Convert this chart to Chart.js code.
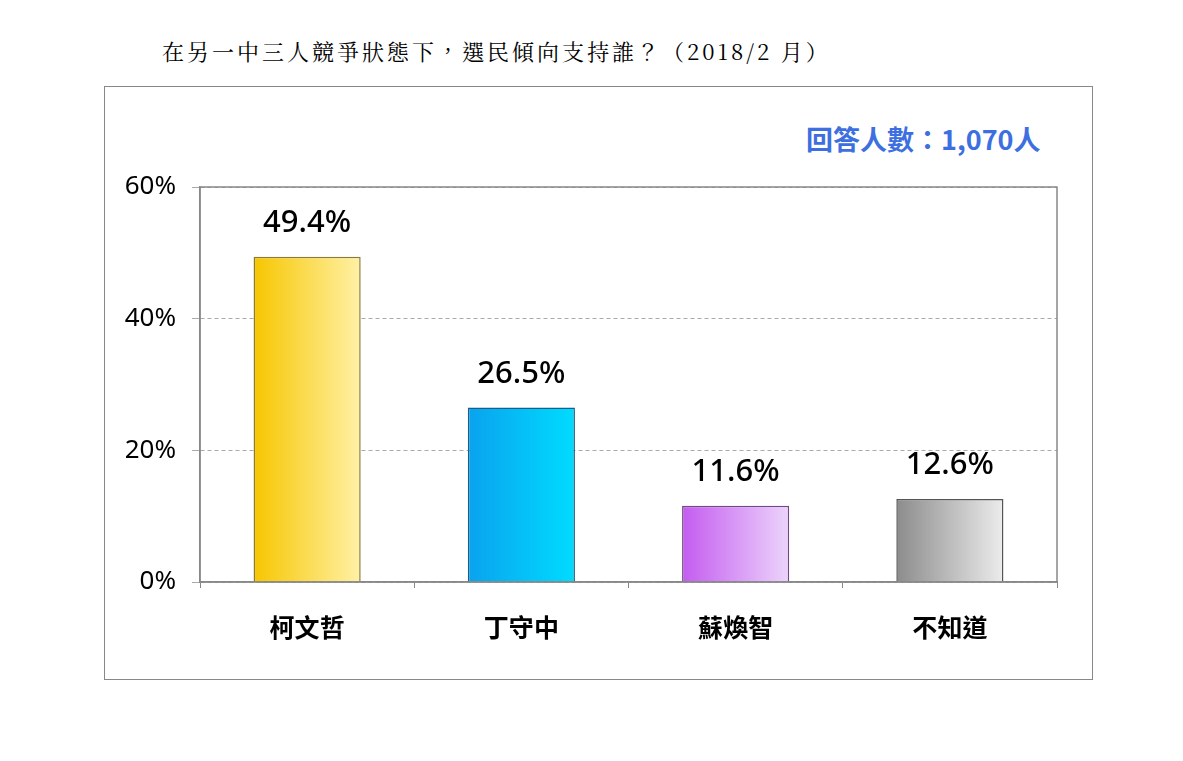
<!DOCTYPE html>
<html><head><meta charset="utf-8">
<script src="https://cdn.jsdelivr.net/npm/chart.js@4/dist/chart.umd.min.js"></script>
<style>
body{margin:0;width:1183px;height:761px;background:#fff;position:relative;overflow:hidden;font-family:"Noto Sans CJK TC","Noto Sans",sans-serif}
#title{position:absolute;left:162px;top:35px;font-size:22px;font-family:"Noto Serif CJK TC","Noto Sans CJK TC",serif;color:#000;letter-spacing:3px}
#frame{position:absolute;left:104px;top:86px;width:987px;height:592px;border:1.5px solid #888}
#n{position:absolute;left:806px;top:119px;font-size:27px;font-weight:bold;color:#3d6fe0}
canvas{position:absolute;left:0;top:0}
</style></head><body>
<div id="title">在另一中三人競爭狀態下，選民傾向支持誰？（2018/2 月）</div>
<div id="frame"></div>
<div id="n">回答人數：1,070人</div>
<canvas id="c" width="1183" height="761"></canvas>
<script>
const categories = ['柯文哲', '丁守中', '蘇煥智', '不知道'];
const values = [49.4, 26.5, 11.6, 12.6];
const yTicks = [0, 20, 40, 60];
const gradStops = [['#f7c600', '#fff1a6'], ['#0aa2ee', '#00dcff'], ['#c45cf0', '#ecd4fb'], ['#8c8c8c', '#ececec']];
const borders = ['#8a7a3a', '#1b5e85', '#6f4a86', '#555555'];

const gradientBars = {
  id: 'gradientBars',
  beforeDatasetsDraw(chart) {
    const ctx = chart.ctx;
    chart.getDatasetMeta(0).data.forEach((el, i) => {
      const g = ctx.createLinearGradient(el.x - el.width / 2, 0, el.x + el.width / 2, 0);
      g.addColorStop(0, gradStops[i][0]);
      g.addColorStop(1, gradStops[i][1]);
      el.options.backgroundColor = g;
    });
  },
  afterDatasetsDraw(chart) {
    const ctx = chart.ctx, a = chart.chartArea;
    ctx.save();
    ctx.strokeStyle = '#888';
    ctx.lineWidth = 1.5;
    ctx.strokeRect(a.left, a.top, a.right - a.left, a.bottom - a.top);
    ctx.fillStyle = '#000';
    ctx.font = '500 31px "Noto Sans", sans-serif';
    ctx.textAlign = 'center';
    ctx.textBaseline = 'bottom';
    chart.getDatasetMeta(0).data.forEach((el, i) => {
      ctx.fillText(values[i].toFixed(1) + '%', el.x, el.y - 18);
    });
    ctx.restore();
  }
};

new Chart(document.getElementById('c'), {
  type: 'bar',
  data: { labels: categories, datasets: [{ data: values, borderColor: borders, borderWidth: 1.5,
    categoryPercentage: 1, barPercentage: 0.5 }] },
  options: {
    responsive: false, animation: false,
    layout: { padding: { left: 100, top: 187, right: 126, bottom: 109 } },
    plugins: { legend: { display: false }, tooltip: { enabled: false } },
    scales: {
      x: {
        afterFit(s) { s.height = 70; },
        grid: { offset: true, drawOnChartArea: false, tickLength: 6, color: '#888' },
        border: { color: '#888', width: 1.5 },
        ticks: { color: '#000', font: { size: 25, weight: 'bold', family: '"Noto Sans CJK TC"' }, padding: 24 }
      },
      y: {
        min: 0, max: 60,
        afterFit(s) { s.width = 100; },
        afterBuildTicks(s) { s.ticks = yTicks.map(v => ({ value: v })); },
        grid: { color: '#aaa', tickLength: 8, lineWidth: 1 },
        border: { color: '#888', width: 1.5, dash: [4, 3] },
        ticks: { color: '#000', font: { size: 26, family: '"Noto Sans"' }, padding: 16, callback: v => v + '%' }
      }
    }
  },
  plugins: [gradientBars]
});
</script>
</body></html>
